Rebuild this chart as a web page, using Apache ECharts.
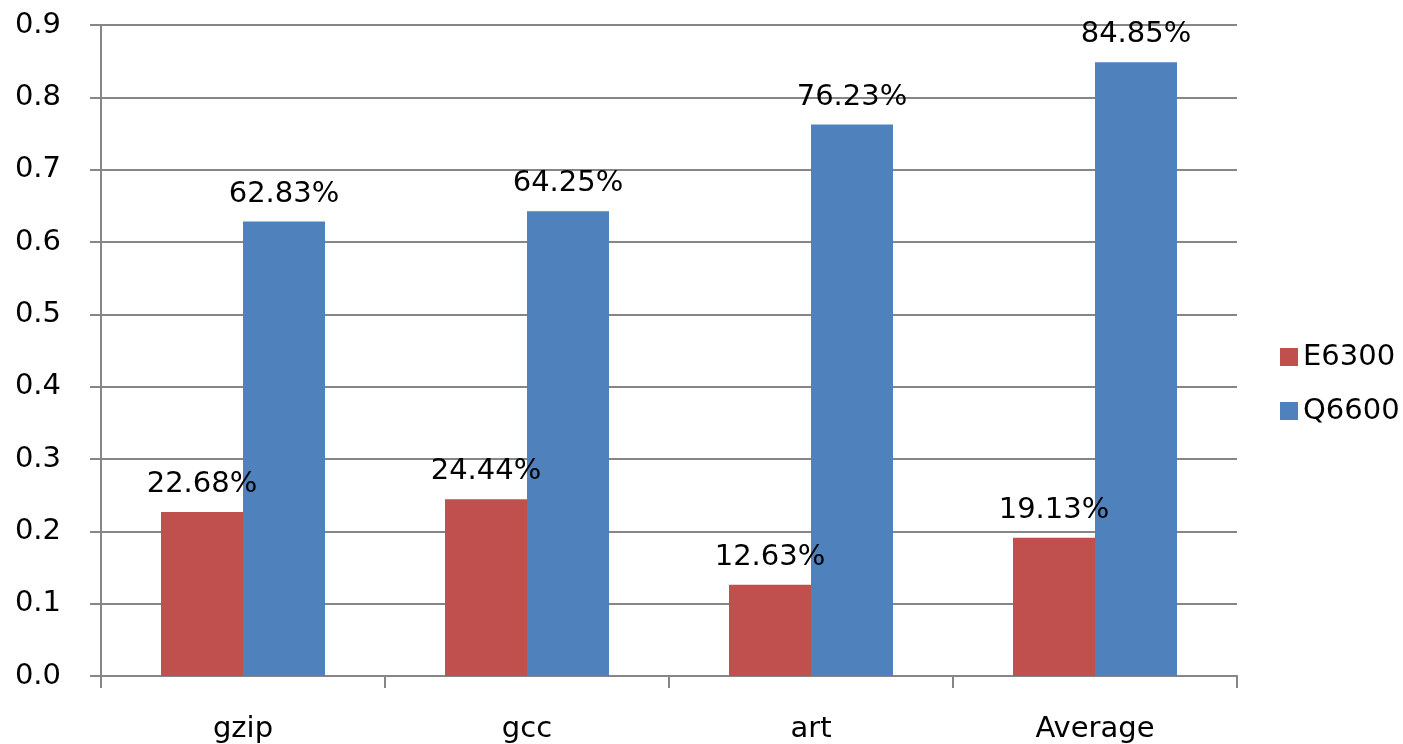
<!DOCTYPE html>
<html>
<head>
<meta charset="utf-8">
<script src="https://cdn.jsdelivr.net/npm/echarts@6/dist/echarts.min.js"></script>
<style>
  html, body { margin: 0; padding: 0; background: #fff; }
  #chartBox { width: 1403px; height: 744px; }
</style>
</head>
<body>
<div id="chartBox"></div>
<script>
// data
var categories = ['gzip', 'gcc', 'art', 'Average'];
var e6300 = [0.2268, 0.2444, 0.1263, 0.1913];
var q6600 = [0.6283, 0.6425, 0.7623, 0.8485];

var fontName = 'DejaVu Sans';
var axisGrey = '#868686';

function pct(p) {
    return (p.value * 100).toFixed(2) + '%';
}

var myChart = echarts.init(document.getElementById('chartBox'));
myChart.setOption({
    animation: false,
    textStyle: { fontFamily: fontName },
    grid: {
        left: 101,
        right: 166,
        top: 25,
        bottom: 68
    },
    legend: {
        orient: 'vertical',
        left: 1275,
        top: 337,
        itemWidth: 18,
        itemHeight: 18,
        itemGap: 24,
        icon: 'rect',
        textStyle: {
            color: '#000',
            fontSize: 29,
            lineHeight: 30,
            fontFamily: fontName
        },
        data: ['E6300', 'Q6600']
    },
    xAxis: {
        type: 'category',
        data: categories,
        axisLine: { lineStyle: { color: axisGrey, width: 2 } },
        axisTick: { show: true, length: 12, lineStyle: { color: axisGrey, width: 2 } },
        axisLabel: {
            color: '#000',
            fontSize: 29,
            margin: 39,
            fontFamily: fontName
        }
    },
    yAxis: {
        type: 'value',
        min: 0,
        max: 0.9,
        interval: 0.1,
        axisLine: { show: true, lineStyle: { color: axisGrey, width: 2 } },
        axisTick: { show: true, length: 11, lineStyle: { color: axisGrey, width: 2 } },
        splitLine: { lineStyle: { color: axisGrey, width: 2 } },
        axisLabel: {
            color: '#000',
            fontSize: 29,
            margin: 40,
            fontFamily: fontName,
            formatter: function (v) { return v.toFixed(1); }
        }
    },
    series: [
        {
            name: 'E6300',
            type: 'bar',
            data: e6300,
            barWidth: 82,
            barGap: '0%',
            itemStyle: { color: '#C0504D' },
            label: {
                show: true,
                position: 'top',
                distance: 13,
                color: '#000',
                fontSize: 29,
                fontFamily: fontName,
                formatter: pct
            }
        },
        {
            name: 'Q6600',
            type: 'bar',
            data: q6600,
            barWidth: 82,
            barGap: '0%',
            itemStyle: { color: '#4F81BD' },
            label: {
                show: true,
                position: 'top',
                distance: 13,
                color: '#000',
                fontSize: 29,
                fontFamily: fontName,
                formatter: pct
            }
        }
    ]
});
</script>
</body>
</html>
